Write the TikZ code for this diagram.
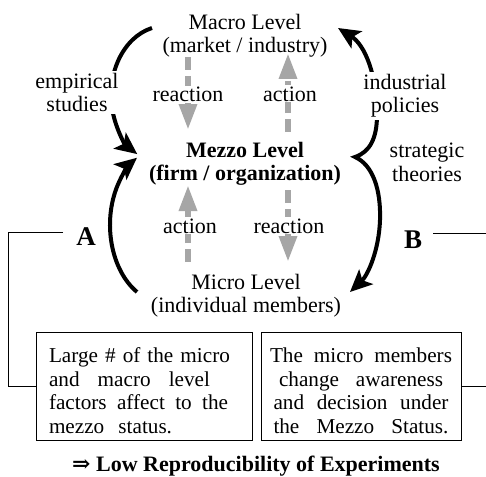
\documentclass[tikz,border=0pt]{standalone}
\usepackage{fontspec}
\setmainfont{Liberation Serif}
\newfontfamily\arrowfont{DejaVu Serif}
\usetikzlibrary{arrows.meta}
\definecolor{feedgray}{HTML}{A6A6A6}
\begin{document}
\begin{tikzpicture}[x=1pt,y=-1pt,
  every node/.style={inner sep=0pt, font=\fontsize{22}{23.5}\selectfont},
  level/.style={align=center},
  lbl/.style={align=center, fill=white, inner sep=2pt},
  word/.style={fill=white, inner sep=1pt},
  flow/.style={draw=black, line width=4pt, -{Stealth[length=22pt,width=20pt,inset=5pt]}},
  brace/.style={draw=black, line width=4pt, {Stealth[length=22pt,width=20pt,inset=5pt]}-{Stealth[length=22pt,width=20pt,inset=5pt]}},
  feedback/.style={draw=feedgray, line width=6pt, dash pattern=on 13pt off 6pt, -{Triangle[length=26pt,width=17pt]}},
  tag/.style={font=\bfseries\fontsize{27}{30}\selectfont},
  note/.style={draw, line width=1pt, minimum height=108pt, text width=190pt, font=\fontsize{21.2}{23.5}\selectfont},
  link/.style={line width=1pt},
  bigbold/.style={font=\bfseries\fontsize{22}{23.5}\selectfont}
]
\useasboundingbox (0,0) rectangle (486,476);

% the three levels
\node[level, anchor=north] (macro) at (245,14) {Macro Level\\(market / industry)};
\node[level, bigbold, anchor=north] (mezzo) at (245,142) {Mezzo Level\\(firm / organization)};
\node[level, anchor=north] (micro) at (246,274) {Micro Level\\(individual members)};

% dashed action / reaction arrows
\coordinate (r1s) at (188,57);  \coordinate (r1e) at (188,130);
\coordinate (a1s) at (188,262); \coordinate (a1e) at (188,185);
\coordinate (a2s) at (288,132); \coordinate (a2e) at (288,53);
\coordinate (r2s) at (288,190); \coordinate (r2e) at (288,262);
\draw[feedback] (r1s) -- (r1e);
\draw[feedback] (a1s) -- (a1e);
\draw[feedback] (a2s) -- (a2e);
\draw[feedback] (r2s) -- (r2e);
\node[word, anchor=base] (react1) at (188,102) {reaction};
\node[word, anchor=base] (act1) at (290,101) {action};
\node[word, anchor=base] (act2) at (190,233) {action};
\node[word, anchor=base] (react2) at (289,233) {reaction};

% curved research arrows
\coordinate (e1s) at (152,28);
\draw[flow] (e1s) arc[start angle=256, end angle=121, x radius=54, y radius=69];
\coordinate (e2s) at (137,292);
\draw[flow] (e2s) arc[start angle=120.6, end angle=239.4, x radius=55, y radius=78];
\coordinate (p1) at (338,28);
\coordinate (cusp) at (355,157);
\coordinate (p2) at (350,292);
\draw[brace] (p1) .. controls (365,45) and (377,75) .. (377,115)
  .. controls (377,138) and (370,152) .. (cusp)
  .. controls (373,165) and (381,190) .. (380,220)
  .. controls (379,250) and (368,275) .. (p2);

\node[lbl, anchor=north] (emp) at (77,71) {empirical\\studies};
\node[lbl, anchor=north] (pol) at (405,72) {industrial\\policies};
\node[level, anchor=north] (strat) at (427,143) {strategic\\theories};

% A / B branches and their notes
\node[tag, anchor=base] (A) at (86,245) {A};
\node[tag, anchor=base] (B) at (413,248) {B};

\node[note, minimum width=216pt, align=left] (box1) at (144,386) {\rule{0pt}{24pt}Large \# of the micro\\
\makebox[161pt][l]{and\hfill macro\hfill level}\\
\makebox[179pt][l]{factors\hfill affect\hfill to\hfill the}\\
mezzo\ \ status.};
\node[note, minimum width=200pt, align=center] (box2) at (361,386) {\rule{0pt}{24pt}\makebox[182pt][l]{The\hfill micro\hfill members}\\
\makebox[164pt][l]{change\hfill awareness}\\
\makebox[175pt][l]{and\hfill decision\hfill under}\\
\makebox[175pt][l]{the\hfill Mezzo\hfill Status.}};

\coordinate (aEnd) at (63,232);
\coordinate (aCorner) at (8,232);
\draw[link] (aEnd) -- (aCorner) |- (box1.west);
\coordinate (bEnd) at (433,233);
\coordinate (bCorner) at (495,233);
\draw[link] (bEnd) -- (bCorner) |- (box2.east);

\node[bigbold, anchor=base west] (concl) at (72,471) {{\arrowfont\bfseries ⇒} Low Reproducibility of Experiments};
\end{tikzpicture}
\end{document}
